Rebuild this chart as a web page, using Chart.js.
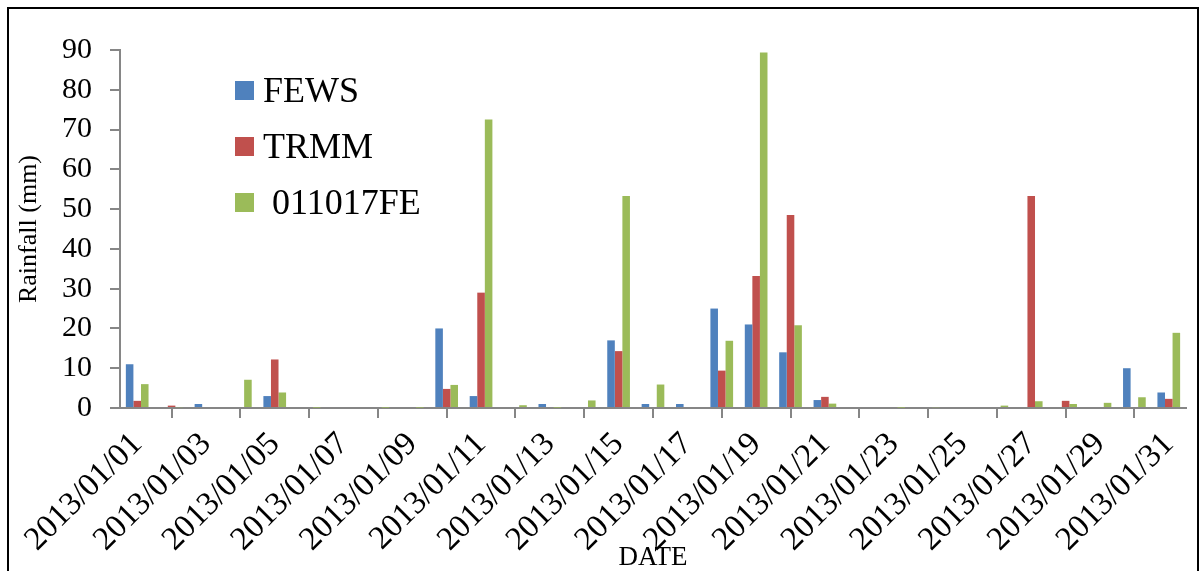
<!DOCTYPE html>
<html>
<head>
<meta charset="utf-8">
<script src="https://cdn.jsdelivr.net/npm/chart.js@4.4.1/dist/chart.umd.min.js"></script>
<style>
  body { margin: 0; background: #fff; }
  #wrap { position: relative; width: 1204px; height: 571px; overflow: hidden; }
  #frame { position: absolute; left: 7px; top: 7px; width: 1188px; height: 620px; border: 2px solid #000; }
  #rainChart { position: absolute; left: 0; top: 0; }
  #legend { position: absolute; left: 235px; top: 62px; font-family: "Liberation Serif", "Times New Roman", serif; font-size: 36px; color: #000; }
  #legend .item { height: 56px; display: flex; align-items: center; white-space: pre; }
  #legend .box { width: 19px; height: 19px; margin-right: 9px; flex: none; }
</style>
</head>
<body>
<div id="wrap">
  <div id="frame"></div>
  <canvas id="rainChart" width="1204" height="571"></canvas>
  <div id="legend"></div>
</div>
<script>
  const dates = [];
  for (let d = 1; d <= 31; d++) dates.push('2013/01/' + String(d).padStart(2, '0'));

  const fews = [11, 0, 1, 0, 3, 0, 0, 0, 0, 20, 3, 0, 1, 0, 17, 1, 1, 25, 21, 14, 2, 0, 0, 0, 0, 0, 0, 0, 0, 10, 3.9];
  const trmm = [1.8, 0.6, 0, 0, 12.2, 0, 0, 0, 0, 4.8, 29, 0, 0, 0, 14.3, 0, 0, 9.4, 33.2, 48.5, 2.8, 0, 0, 0, 0, 0, 53.3, 1.8, 0, 0, 2.3];
  const station = [6, 0.2, 0, 7.1, 3.9, 0.1, 0, 0.1, 0.1, 5.8, 72.5, 0.7, 0.1, 1.9, 53.3, 5.9, 0, 16.9, 89.4, 20.8, 1.1, 0, 0.1, 0.2, 0, 0.6, 1.7, 1.0, 1.3, 2.7, 18.9];

  const seriesNames = ['FEWS', 'TRMM', ' 011017FE'];
  const seriesColors = ['#4F81BD', '#C0504D', '#9BBB59'];
  const axisGray = '#868686';
  const serif = "'Liberation Serif', 'Times New Roman', serif";

  const datasets = [fews, trmm, station].map((values, i) => ({
    label: seriesNames[i],
    data: values,
    backgroundColor: seriesColors[i],
    borderWidth: 0,
    categoryPercentage: 0.66,
    barPercentage: 1.0
  }));

  // legend sits inside the plot, built from the same names/colours
  const legendEl = document.getElementById('legend');
  datasets.forEach(ds => {
    const item = document.createElement('div');
    item.className = 'item';
    item.innerHTML = '<span class="box" style="background:' + ds.backgroundColor + '"></span><span>' + ds.label + '</span>';
    legendEl.appendChild(item);
  });

  new Chart(document.getElementById('rainChart'), {
    type: 'bar',
    data: { labels: dates, datasets: datasets },
    options: {
      responsive: false,
      animation: false,
      layout: { padding: { left: 0, top: 50, right: 14, bottom: 0 } },
      plugins: { legend: { display: false }, tooltip: { enabled: false } },
      scales: {
        x: {
          offset: true,
          afterFit: s => { s.height = 163; },
          grid: {
            offset: true,
            drawOnChartArea: false,
            drawTicks: true,
            tickLength: 10,
            color: axisGray,
            lineWidth: 2
          },
          border: { color: axisGray, width: 2 },
          ticks: {
            autoSkip: false,
            minRotation: 45,
            maxRotation: 45,
            padding: 7,
            color: '#000',
            font: { family: serif, size: 33 },
            callback: function (v, i) { return i % 2 === 0 ? this.getLabelForValue(v) : null; }
          },
          title: {
            display: true,
            text: 'DATE',
            color: '#000',
            font: { family: serif, size: 27 },
            padding: { top: 0, bottom: -3 }
          }
        },
        y: {
          min: 0,
          max: 90,
          afterFit: s => { s.width = 120; },
          grid: {
            drawOnChartArea: false,
            drawTicks: true,
            tickLength: 10,
            color: axisGray,
            lineWidth: 2
          },
          border: { color: axisGray, width: 2 },
          ticks: {
            stepSize: 10,
            padding: 18,
            color: '#000',
            font: { family: serif, size: 30 }
          },
          title: {
            display: true,
            text: 'Rainfall (mm)',
            color: '#000',
            font: { family: serif, size: 26 },
            padding: { top: 14, bottom: 0 }
          }
        }
      }
    }
  });
</script>
</body>
</html>
